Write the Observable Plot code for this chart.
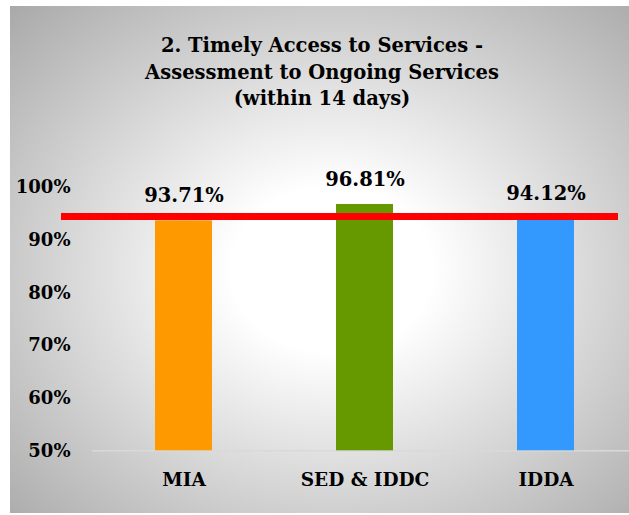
<!DOCTYPE html>
<html>
<head>
<meta charset="utf-8">
<script src="https://cdn.jsdelivr.net/npm/d3@7"></script>
<script src="https://cdn.jsdelivr.net/npm/@observablehq/plot@0.6"></script>
<style>
  html, body { margin: 0; padding: 0; background: #ffffff; }
  #wrap { position: relative; width: 629px; height: 515px; overflow: hidden; }
  #bg { position: absolute; left: 10px; top: 6px; width: 619px; height: 507px;
        background: radial-gradient(ellipse farthest-corner at 52% 52%, #ffffff 0%, #ffffff 22%, #a9a9a9 100%); }
  #title { position: absolute; left: 10px; top: 33px; width: 624px; text-align: center;
           font-family: "DejaVu Serif", serif; font-weight: bold; font-size: 19.5px; line-height: 26.5px; color: #000; }
  #chart { position: absolute; left: 0; top: 0; }
  #chart svg { background: transparent !important; }
</style>
</head>
<body>
<div id="wrap">
  <div id="bg"></div>
  <div id="title">2. Timely Access to Services -<br>Assessment to Ongoing Services<br>(within 14 days)</div>
  <div id="chart"></div>
</div>
<script>
const categories = ["MIA", "SED & IDDC", "IDDA"];
const values = [93.71, 96.81, 94.12];
const colors = ["#FF9900", "#669900", "#3399FF"];
const target = 94.55;
const yTicks = [50, 60, 70, 80, 90, 100];

const data = categories.map((c, i) => ({category: c, value: values[i], color: colors[i]}));

const font = '"DejaVu Serif", serif';

const plot = Plot.plot({
  width: 629,
  height: 515,
  marginLeft: 61,
  marginRight: 11,
  marginTop: 187.2,
  marginBottom: 64.7,
  style: {background: "transparent", fontFamily: font, color: "#000"},
  x: {type: "band", domain: categories, range: [92, 636.5], paddingInner: 0.686, paddingOuter: 0.343, label: null},
  y: {domain: [50, 100], label: null},
  marks: [
    Plot.ruleY([50], {stroke: "#d9d9d9", strokeWidth: 1.5, insetLeft: 31, insetRight: -11}),
    Plot.barY(data, {x: "category", y1: 50, y2: "value", fill: d => d.color}),
    Plot.ruleY([target], {stroke: "#FF0000", strokeWidth: 7}),
    Plot.text(data, {x: "category", y: "value", text: d => d.value.toFixed(2) + "%", dy: -25,
      fontSize: 19.5, fontWeight: "bold", fontFamily: font, fill: "#000", lineAnchor: "middle"}),
    Plot.axisY({ticks: yTicks, tickFormat: d => d + "%", tickSize: 0, dx: 18,
      fontSize: 18, fontWeight: "bold", fontFamily: font, fill: "#000", label: null}),
    Plot.axisX({tickSize: 0, tickPadding: 22, fontSize: 18.5, fontWeight: "bold", fontFamily: font, fill: "#000", label: null})
  ]
});
document.getElementById("chart").appendChild(plot);
</script>
</body>
</html>
